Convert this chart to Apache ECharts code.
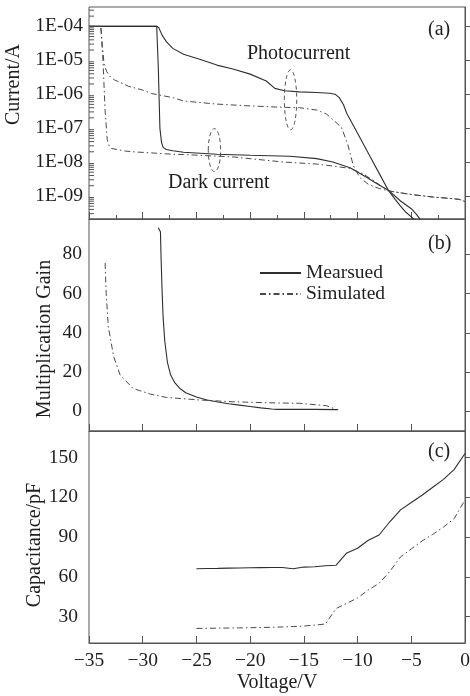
<!DOCTYPE html>
<html><head><meta charset="utf-8">
<script src="https://cdn.jsdelivr.net/npm/echarts@6/dist/echarts.min.js"></script>
<style>html,body{margin:0;padding:0;background:#fff}#c{width:470px;height:696px}</style>
</head><body><div id="c"></div>
<script>
// ---------- DATA ----------
// Panel (a): current (A) vs voltage (V)
const photoMeasV = [-35, -28.7, -28.5, -28.2, -27.8, -27.2, -26.2, -24.7, -23.1, -21.6, -20.0, -18.5, -17.7, -16.8, -15.4, -13.8, -12.6, -12.1, -11.7, -11.3, -11.0, -10.0, -9.0, -8.0, -7.14, -6.5, -6.0, -5.5, -5.0, -4.6];
const photoMeasI = [1e-4, 1e-4, 9.1e-5, 5.5e-5, 3.55e-5, 2.24e-5, 1.51e-5, 1.07e-5, 7.2e-6, 5.5e-6, 3.9e-6, 2.45e-6, 1.48e-6, 1.26e-6, 1.17e-6, 1.12e-6, 1.07e-6, 1.0e-6, 7.9e-7, 4.8e-7, 2.7e-7, 7.1e-8, 1.8e-8, 4.7e-9, 1.48e-9, 7.9e-10, 5.0e-10, 3.3e-10, 2.4e-10, 1.9e-10];
const darkMeasV = [-35, -28.7, -28.55, -28.4, -28.25, -28.1, -27.8, -27.2, -26.2, -23.1, -20.0, -16.3, -13.8, -12.3, -10.7, -9.2, -8.0, -7.14, -6.0, -5.0, -4.5, -4.1];
const darkMeasI = [1e-4, 1e-4, 6.3e-6, 1.0e-7, 3.8e-8, 2.7e-8, 2.35e-8, 2.14e-8, 1.95e-8, 1.7e-8, 1.58e-8, 1.48e-8, 1.26e-8, 1.0e-8, 6.8e-9, 3.6e-9, 2.1e-9, 1.48e-9, 7.1e-10, 4.2e-10, 2.8e-10, 1.9e-10];
const photoSimV = [-35, -33.9, -33.75, -33.6, -33.35, -33.0, -32.6, -31.3, -30.0, -29.2, -27.2, -26.2, -23.1, -20.0, -16.9, -15.4, -13.8, -12.9, -12.3, -11.5, -10.9, -10.4, -9.8, -9.0, -8.0, -7.14, -5.0, -3.0, -1.5, -0.5, 0];
const photoSimI = [1e-4, 1e-4, 2.5e-5, 7.9e-6, 4.6e-6, 3.2e-6, 2.6e-6, 1.7e-6, 1.32e-6, 1.05e-6, 7.9e-7, 6.3e-7, 5.1e-7, 4.5e-7, 4.1e-7, 4.0e-7, 3.4e-7, 2.6e-7, 1.78e-7, 1.05e-7, 3.2e-8, 7.9e-9, 3.5e-9, 2.2e-9, 1.66e-9, 1.41e-9, 1.1e-9, 9.3e-10, 8.5e-10, 7.9e-10, 6.8e-10];
const darkSimV = [-35, -33.9, -33.7, -33.5, -33.3, -33.1, -32.9, -31.6, -30.9, -27.2, -26.2, -21.6, -16.9, -13.8, -12.3, -10.7, -9.5, -8.5, -7.14, -5.0, -3.0, -1.5, -0.5, 0];
const darkSimI = [1e-4, 1e-4, 1e-5, 3.2e-7, 4.5e-8, 2.8e-8, 2.5e-8, 2.1e-8, 2.0e-8, 1.7e-8, 1.66e-8, 1.41e-8, 1.0e-8, 8.7e-9, 7.6e-9, 6.5e-9, 4.5e-9, 2.8e-9, 1.41e-9, 1.1e-9, 9.3e-10, 8.5e-10, 7.9e-10, 6.8e-10];

// Panel (b): multiplication gain
const gainMeasV = [-28.55, -28.35, -28.3, -28.2, -28.1, -27.95, -27.7, -27.4, -27.0, -26.5, -26.0, -25.0, -24.0, -23.0, -22.0, -21.0, -20.0, -19.0, -18.0, -17.5, -16.0, -14.0, -12.0, -11.8];
const gainMeas  = [93.6, 91.5, 80, 62, 48, 36, 25, 18.5, 14.5, 11.5, 9.5, 7.3, 5.8, 4.8, 3.9, 3.2, 2.5, 1.8, 1.2, 1.0, 1.0, 1.0, 0.9, 0.8];
const gainSimV  = [-33.5, -33.4, -33.2, -32.7, -32.1, -30.9, -29.3, -27.8, -24.7, -21.6, -18.5, -15.4, -12.9, -12.0];
const gainSim   = [75.6, 60, 43, 27.8, 18.5, 11.7, 8.8, 7.1, 5.8, 4.9, 4.4, 4.1, 2.9, 1.0];

// Panel (c): capacitance (pF)
const capV    = [-25, -24, -23, -22, -21, -20, -19, -18, -17, -16, -15, -14, -13, -12, -11, -10, -9, -8, -7, -6, -5, -4, -3, -2, -1, 0];
const capMeas = [66, 66.2, 66.3, 66.5, 66.6, 66.8, 66.9, 67, 67, 66, 67.3, 67.6, 68.3, 68.7, 78, 81.5, 87.5, 91.5, 101.5, 110.5, 116, 121.5, 127.5, 133.5, 141, 153];
const capSim  = [21, 21.1, 21.2, 21.3, 21.4, 21.5, 21.7, 21.9, 22.1, 22.4, 22.8, 23.5, 24.3, 36, 40, 44, 50, 55, 64, 75, 81, 87, 92, 97.5, 104, 118];

// Tick values
const gainTicks = [0, 20, 40, 60, 80];
const capTicks = [30, 60, 90, 120, 150];
const logMinorMantissas = [2, 3, 4, 5, 6, 7, 8, 9];
const logMinorDecades = [1e-10, 1e-9, 1e-8, 1e-7, 1e-6, 1e-5, 1e-4];
const legendNames = ['Mearsued', 'Simulated'];

// ---------- CHART ----------
const FONT = '"Liberation Serif","Times New Roman",serif';
const INK = '#1e1e1e';
const AX = '#555';
const LN = '#2e2e2e';
const LNS = '#4a4a4a';
const DASHDOT = [6, 3, 1.5, 3];
const FS = 19.5;
const Y0MIN = Math.pow(10, -9.68), Y0MAX = Math.pow(10, -3.43);

const pairs = (xs, ys) => xs.map((x, i) => [x, ys[i]]);
const minusFmt = v => v < 0 ? '\u2212' + Math.abs(v) : String(v);

const minorTickVals = [];
logMinorDecades.forEach(d => logMinorMantissas.forEach(m => {
  const v = m * d;
  if (v > Y0MIN && v < Y0MAX) minorTickVals.push(v);
}));

const chart = echarts.init(document.getElementById('c'), null, {renderer: 'canvas'});

const gridBase = {show: true, borderColor: AX, borderWidth: 1, backgroundColor: 'transparent', left: 89, right: 5, height: 212, containLabel: false, outerBoundsMode: 'none'};

function xAx(gi, labels, minor) {
  return {
    type: 'value', gridIndex: gi, min: -35, max: 0, interval: 5,
    axisLine: {show: true, onZero: false, lineStyle: {color: AX, width: 1}},
    axisTick: {show: true, inside: true, length: 7, lineStyle: {color: AX}},
    minorTick: {show: minor, splitNumber: 2, length: 4, lineStyle: {color: AX}},
    splitLine: {show: false}, minorSplitLine: {show: false},
    axisLabel: {show: labels, color: INK, fontFamily: FONT, fontSize: FS, margin: 8, formatter: minusFmt},
    name: labels ? 'Voltage/V' : '', nameLocation: 'middle', nameGap: 30,
    nameMoveOverlap: false,
    nameTextStyle: {color: INK, fontFamily: FONT, fontSize: 20}
  };
}

const yNameStyle = pad => ({color: INK, fontFamily: FONT, fontSize: 20, padding: pad});

const option = {
  animation: false,
  backgroundColor: '#fff',
  grid: [
    Object.assign({}, gridBase, {top: 7}),
    Object.assign({}, gridBase, {top: 219}),
    Object.assign({}, gridBase, {top: 431})
  ],
  xAxis: [xAx(0, false, true), xAx(1, false, false), xAx(2, true, false)],
  yAxis: [
    {
      type: 'log', logBase: 10, gridIndex: 0,
      min: Y0MIN, max: Y0MAX, splitNumber: 6,
      axisLine: {show: true, lineStyle: {color: AX}},
      axisTick: {show: true, inside: true, length: 8, lineStyle: {color: AX}},
      minorTick: {show: false},
      splitLine: {show: false}, minorSplitLine: {show: false},
      axisLabel: {color: INK, fontFamily: FONT, fontSize: FS, margin: 6, showMinLabel: false, showMaxLabel: false,
        formatter: v => {
          const e = Math.log10(v);
          if (Math.abs(e - Math.round(e)) > 1e-6) return '';
          return '1E-' + String(-Math.round(e)).padStart(2, '0');
        }},
      name: 'Current/A', nameLocation: 'middle', nameGap: 65, nameRotate: 90, nameMoveOverlap: false,
      nameTextStyle: yNameStyle([0, 0, 0, 57])
    },
    {
      type: 'value', gridIndex: 1, min: -10, max: 98,
      axisLine: {show: true, lineStyle: {color: AX}},
      axisTick: {show: true, inside: true, length: 7, customValues: gainTicks, lineStyle: {color: AX}},
      splitLine: {show: false},
      axisLabel: {color: INK, fontFamily: FONT, fontSize: FS, margin: 7, customValues: gainTicks},
      name: 'Multiplication Gain', nameLocation: 'middle', nameGap: 34, nameRotate: 90, nameMoveOverlap: false,
      nameTextStyle: yNameStyle([0, 28, 0, 0])
    },
    {
      type: 'value', gridIndex: 2, min: 10, max: 170,
      axisLine: {show: true, lineStyle: {color: AX}},
      axisTick: {show: true, inside: true, length: 6, customValues: capTicks, lineStyle: {color: AX}},
      splitLine: {show: false},
      axisLabel: {color: INK, fontFamily: FONT, fontSize: FS, margin: 11, customValues: capTicks},
      name: 'Capacitance/pF', nameLocation: 'middle', nameGap: 44, nameRotate: 90, nameMoveOverlap: false,
      nameTextStyle: yNameStyle([0, 16, 0, 0])
    }
  ],
  legend: {
    data: legendNames, orient: 'vertical', left: 254, top: 258,
    itemWidth: 41, itemHeight: 20, itemGap: 1, selectedMode: false,
    itemStyle: {opacity: 0, color: 'transparent', borderWidth: 0},
    textStyle: {color: INK, fontFamily: FONT, fontSize: FS}
  },
  series: []
};

function line(name, xi, data, dashed) {
  return {
    name, type: 'line', xAxisIndex: xi, yAxisIndex: xi, data,
    symbol: 'none', showSymbol: false, smooth: false, silent: true, clip: true,
    lineStyle: {color: dashed ? LNS : LN, width: dashed ? 1 : 1.1, type: dashed ? DASHDOT : 'solid'},
    itemStyle: {color: dashed ? LNS : LN}
  };
}

option.series.push(
  line('Photocurrent (measured)', 0, pairs(photoMeasV, photoMeasI), false),
  line('Dark current (measured)', 0, pairs(darkMeasV, darkMeasI), false),
  line('Photocurrent (simulated)', 0, pairs(photoSimV, photoSimI), true),
  line('Dark current (simulated)', 0, pairs(darkSimV, darkSimI), true),
  line('Mearsued', 1, pairs(gainMeasV, gainMeas), false),
  line('Simulated', 1, pairs(gainSimV, gainSim), true),
  line('Capacitance (measured)', 2, pairs(capV, capMeas), false),
  line('Capacitance (simulated)', 2, pairs(capV, capSim), true),
  {
    name: 'log minor ticks', type: 'custom', xAxisIndex: 0, yAxisIndex: 0, silent: true, clip: false,
    data: minorTickVals.map(v => [-35, v]),
    renderItem: (params, api) => {
      const p = api.coord([api.value(0), api.value(1)]);
      return {type: 'line', shape: {x1: p[0], y1: p[1], x2: p[0] + 5, y2: p[1]}, style: {stroke: AX, lineWidth: 1}};
    }
  }
);

chart.setOption(option);

// annotations anchored to data coordinates of panel (a)
const pc = chart.convertToPixel({gridIndex: 0}, [-16.24, 6.8e-7]);
const dc = chart.convertToPixel({gridIndex: 0}, [-23.32, 2.24e-8]);
const txt = (id, x, y, t) => ({id, type: 'text', x, y, silent: true,
  style: {text: t, fill: INK, font: '20px ' + FONT, verticalAlign: 'middle', align: 'left'}});
chart.setOption({
  graphic: [
    {id: 'e1', type: 'ellipse', silent: true, shape: {cx: pc[0], cy: pc[1], rx: 6.2, ry: 30},
      style: {fill: 'none', stroke: '#555', lineWidth: 1, lineDash: [4, 3]}},
    {id: 'e2', type: 'ellipse', silent: true, shape: {cx: dc[0], cy: dc[1], rx: 6.2, ry: 21.5},
      style: {fill: 'none', stroke: '#555', lineWidth: 1, lineDash: [4, 3]}},
    txt('ta', 428, 30, '(a)'),
    txt('tb', 428, 244, '(b)'),
    txt('tc', 428, 452, '(c)'),
    txt('tp', 247, 54, 'Photocurrent'),
    txt('td', 168, 182.5, 'Dark current')
  ]
});
</script>
</body></html>
